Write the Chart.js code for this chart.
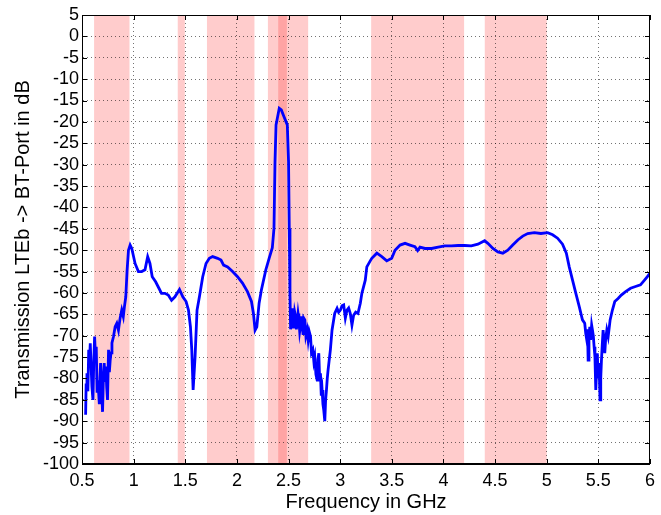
<!DOCTYPE html>
<html>
<head>
<meta charset="utf-8">
<script src="https://cdn.jsdelivr.net/npm/chart.js@4/dist/chart.umd.min.js"></script>
<style>
  body { margin: 0; background: #fff; }
  #wrap { width: 661px; height: 515px; }
</style>
</head>
<body>
<div id="wrap"><canvas id="chart" width="661" height="515"></canvas></div>
<script>
// Measured transmission (GHz, dB)
const freq = [
  0.535, 0.540, 0.548, 0.557, 0.565, 0.572, 0.580, 0.588, 0.596, 0.606,
  0.614, 0.622, 0.630, 0.638, 0.646, 0.654, 0.667, 0.674, 0.680, 0.690,
  0.699, 0.707, 0.715, 0.723, 0.731, 0.739, 0.747, 0.757, 0.765, 0.773,
  0.781, 0.790, 0.805, 0.821, 0.837, 0.853, 0.869, 0.885, 0.900, 0.911,
  0.924, 0.937, 0.950, 0.966, 0.982, 1.014, 1.046, 1.078, 1.110, 1.136,
  1.158, 1.180, 1.213, 1.245, 1.270, 1.303, 1.335, 1.367, 1.400, 1.444,
  1.476, 1.508, 1.531, 1.550, 1.563, 1.576, 1.595, 1.614, 1.637, 1.669,
  1.701, 1.733, 1.765, 1.813, 1.846, 1.871, 1.910, 1.958, 2.006, 2.054,
  2.102, 2.141, 2.160, 2.176, 2.193, 2.215, 2.237, 2.280, 2.312, 2.343,
  2.359, 2.369, 2.379, 2.391, 2.410, 2.430, 2.456, 2.488, 2.500, 2.507,
  2.514, 2.520, 2.528, 2.536, 2.544, 2.552, 2.560, 2.568, 2.576, 2.584,
  2.592, 2.600, 2.608, 2.617, 2.625, 2.632, 2.640, 2.648, 2.658, 2.668,
  2.680, 2.690, 2.700, 2.713, 2.722, 2.735, 2.745, 2.754, 2.765, 2.777,
  2.785, 2.793, 2.801, 2.809, 2.817, 2.825, 2.833, 2.841, 2.851, 2.859,
  2.867, 2.875, 2.883, 2.905, 2.921, 2.947, 2.970, 2.985, 3.002, 3.018,
  3.034, 3.050, 3.066, 3.082, 3.098, 3.114, 3.130, 3.150, 3.172, 3.195,
  3.210, 3.243, 3.258, 3.291, 3.306, 3.355, 3.403, 3.451, 3.499, 3.531,
  3.580, 3.628, 3.676, 3.724, 3.750, 3.773, 3.821, 3.885, 3.949, 4.013,
  4.077, 4.142, 4.206, 4.270, 4.334, 4.399, 4.430, 4.479, 4.527, 4.575,
  4.623, 4.671, 4.720, 4.768, 4.816, 4.880, 4.944, 5.009, 5.057, 5.105,
  5.153, 5.190, 5.218, 5.250, 5.282, 5.315, 5.346, 5.368, 5.378, 5.388,
  5.395, 5.401, 5.409, 5.417, 5.425, 5.435, 5.443, 5.451, 5.459, 5.467,
  5.475, 5.483, 5.490, 5.498, 5.507, 5.516, 5.523, 5.530, 5.538, 5.546,
  5.555, 5.562, 5.570, 5.582, 5.595, 5.614, 5.636, 5.659, 5.691, 5.722,
  5.764, 5.812, 5.860, 5.908, 5.947, 5.988, 6.000
];
const transmission = [
  -88.5, -81.5, -78.8, -83.0, -73.3, -76.5, -71.8, -77.0, -81.9, -85.0,
  -76.0, -70.2, -74.5, -72.6, -83.0, -80.4, -85.7, -80.0, -76.4, -82.5,
  -87.8, -80.0, -76.4, -80.5, -77.2, -82.0, -85.0, -73.3, -78.5, -75.7,
  -74.0, -71.7, -70.2, -67.9, -67.1, -68.7, -65.9, -64.0, -65.5, -63.2,
  -60.9, -54.6, -50.0, -48.8, -49.6, -53.1, -55.0, -55.0, -54.6, -51.5,
  -53.1, -56.2, -57.4, -58.9, -60.1, -60.1, -60.5, -61.7, -60.9, -59.2,
  -60.9, -62.0, -64.0, -67.9, -73.3, -82.7, -74.9, -64.0, -60.9, -56.2,
  -53.1, -51.9, -51.5, -51.9, -52.3, -53.5, -53.9, -55.0, -56.2, -57.7,
  -59.7, -62.0, -64.8, -68.7, -67.9, -62.4, -59.3, -54.6, -51.9, -49.4,
  -44.9, -29.3, -20.7, -19.2, -16.8, -17.2, -18.8, -20.7, -29.3, -44.9,
  -60.5, -68.5, -65.0, -63.6, -68.0, -67.5, -64.5, -65.5, -68.5, -66.8,
  -64.8, -66.3, -69.0, -67.5, -65.5, -67.9, -69.5, -65.9, -66.3, -70.0,
  -68.7, -71.0, -69.0, -70.2, -74.0, -73.3, -76.0, -74.9, -79.0, -80.4,
  -75.5, -74.1, -80.0, -78.8, -84.0, -82.7, -86.0, -87.4, -90.0, -85.0,
  -82.7, -80.0, -78.0, -73.3, -68.7, -64.8, -63.6, -64.5, -64.0, -63.0,
  -62.8, -65.9, -64.0, -63.5, -64.8, -67.5, -65.2, -64.5, -64.8, -62.4,
  -60.1, -57.0, -53.9, -52.5, -51.9, -50.7, -51.5, -52.5, -51.9, -50.0,
  -48.8, -48.4, -48.8, -49.2, -50.1, -49.3, -49.6, -49.6, -49.3, -49.0,
  -49.0, -48.9, -48.9, -49.0, -48.6, -47.8, -48.4, -49.6, -50.4, -50.7,
  -50.0, -48.8, -47.6, -46.7, -46.1, -45.9, -46.1, -45.9, -46.4, -47.2,
  -48.6, -50.7, -53.9, -57.0, -60.1, -63.2, -66.3, -67.1, -69.5, -71.0,
  -68.5, -75.7, -70.5, -67.9, -71.0, -67.5, -68.7, -70.0, -72.6, -75.0,
  -82.7, -78.0, -74.1, -80.0, -76.4, -85.0, -80.0, -75.7, -72.0, -68.7,
  -71.0, -74.1, -71.0, -68.7, -70.2, -66.3, -64.0, -62.0, -61.3, -60.5,
  -59.7, -58.9, -58.5, -58.1, -57.0, -55.8, -55.3
];

// Shaded frequency bands (GHz)
const bandStart = [0.617, 1.427, 1.71, 2.30, 2.40, 3.30, 4.40];
const bandEnd   = [0.960, 1.496, 2.17, 2.69, 2.4835, 4.20, 5.00];

const xTicks = [0.5, 1, 1.5, 2, 2.5, 3, 3.5, 4, 4.5, 5, 5.5, 6];
const yMin = -100, yMax = 5, yStep = 5;

const bandsPlugin = {
  id: 'bands',
  beforeDraw(chart) {
    const { ctx, chartArea, scales } = chart;
    ctx.save();
    ctx.fillStyle = 'rgba(255, 0, 0, 0.2)';
    for (let i = 0; i < bandStart.length; i++) {
      const x0 = scales.x.getPixelForValue(bandStart[i]);
      const x1 = scales.x.getPixelForValue(bandEnd[i]);
      ctx.fillRect(x0, chartArea.top, x1 - x0, chartArea.bottom - chartArea.top);
    }
    ctx.restore();
  },
  afterDraw(chart) {
    // matlab style box with inner ticks
    const { ctx, chartArea: a, scales } = chart;
    ctx.save();
    ctx.strokeStyle = '#000';
    ctx.lineWidth = 1;
    ctx.strokeRect(a.left + 0.5, a.top + 0.5, a.right - a.left - 1, a.bottom - a.top - 1);
    ctx.beginPath();
    scales.x.ticks.forEach(t => {
      const x = Math.round(scales.x.getPixelForValue(t.value)) + 0.5;
      ctx.moveTo(x, a.bottom); ctx.lineTo(x, a.bottom - 5);
      ctx.moveTo(x, a.top); ctx.lineTo(x, a.top + 5);
    });
    scales.y.ticks.forEach(t => {
      const y = Math.round(scales.y.getPixelForValue(t.value)) + 0.5;
      ctx.moveTo(a.left, y); ctx.lineTo(a.left + 5, y);
      ctx.moveTo(a.right, y); ctx.lineTo(a.right - 5, y);
    });
    ctx.stroke();
    ctx.restore();
  }
};

const gridStyle = {
  color: 'rgba(0,0,0,0.55)',
  lineWidth: 1,
  drawTicks: false,
  tickLength: 0
};

new Chart(document.getElementById('chart'), {
  type: 'line',
  data: {
    datasets: [{
      data: freq.map((f, i) => ({ x: f, y: transmission[i] })),
      borderColor: '#0000ff',
      borderWidth: 2.8,
      pointRadius: 0,
      tension: 0,
      fill: false
    }]
  },
  options: {
    responsive: false,
    animation: false,
    layout: { padding: { left: 0, right: 8, top: 15, bottom: 0 }, autoPadding: false },
    plugins: { legend: { display: false }, tooltip: { enabled: false } },
    scales: {
      x: {
        type: 'linear',
        min: 0.5,
        max: 6,
        afterBuildTicks(scale) { scale.ticks = xTicks.map(v => ({ value: v })); },
        afterFit(scale) { scale.height = 51; },
        grid: gridStyle,
        border: { display: true, color: '#000', dash: [1, 3] },
        ticks: {
          color: '#000',
          padding: 6,
          maxRotation: 0,
          autoSkip: false,
          font: { family: 'Liberation Sans, Arial, sans-serif', size: 18 },
          callback: v => String(v)
        },
        title: {
          display: true,
          text: 'Frequency in GHz',
          color: '#000',
          font: { family: 'Liberation Sans, Arial, sans-serif', size: 20 },
          padding: { top: 0, bottom: 1 }
        }
      },
      y: {
        min: yMin,
        max: yMax,
        afterFit(scale) { scale.width = 82; },
        grid: gridStyle,
        border: { display: true, color: '#000', dash: [1, 3] },
        ticks: {
          stepSize: yStep,
          color: '#000',
          padding: 3,
          autoSkip: false,
          font: { family: 'Liberation Sans, Arial, sans-serif', size: 18 }
        },
        title: {
          display: true,
          text: 'Transmission LTEb -> BT-Port in dB',
          color: '#000',
          font: { family: 'Liberation Sans, Arial, sans-serif', size: 20 },
          padding: { top: 11, bottom: 0 }
        }
      }
    }
  },
  plugins: [bandsPlugin]
});
</script>
</body>
</html>
